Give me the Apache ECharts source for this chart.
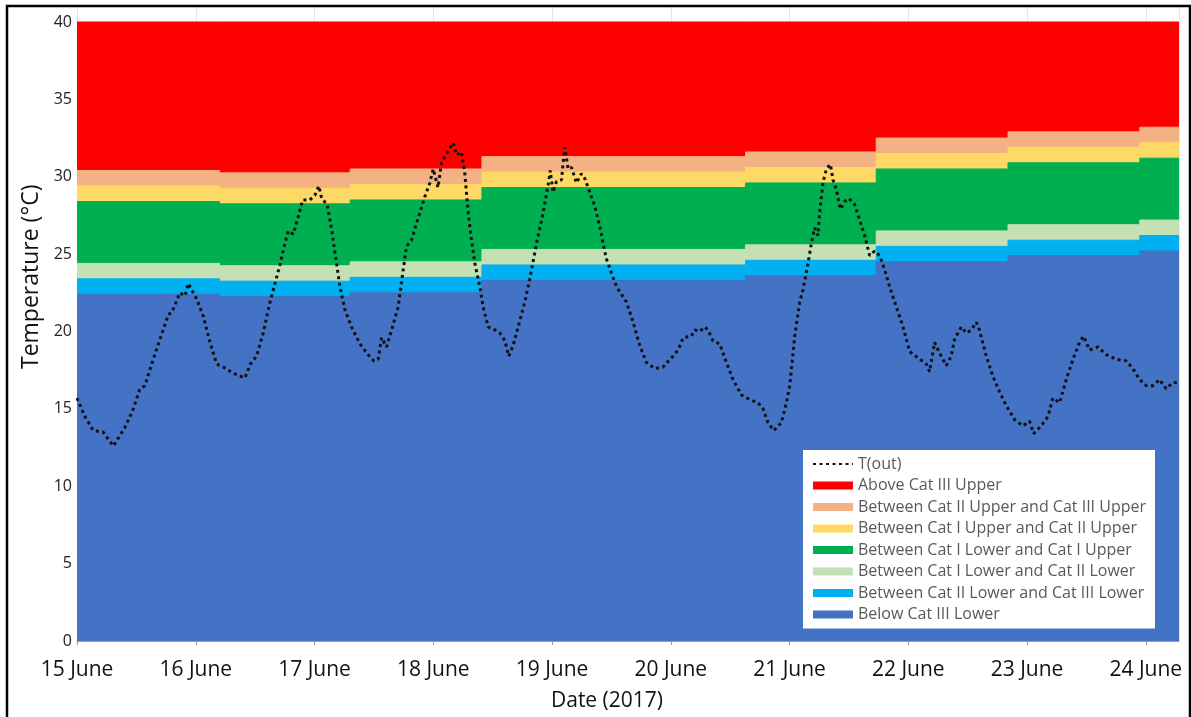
<!DOCTYPE html>
<html>
<head>
<meta charset="utf-8">
<script src="https://cdn.jsdelivr.net/npm/echarts@6/dist/echarts.min.js"></script>
<style>
  html, body { margin: 0; padding: 0; background: #fff; }
  #chart { width: 1191px; height: 717px; }
</style>
</head>
<body>
<div id="chart"></div>
<script>
// x axis is days since 15 June 2017 00:00
const dayTicks = ['15 June', '16 June', '17 June', '18 June', '19 June',
  '20 June', '21 June', '22 June', '23 June', '24 June'];
const endDay = 9.28;

// comfort band limits, one value per step segment
const stepStart   = [0, 1.2, 2.3, 3.41, 5.63, 6.73, 7.84, 8.95];
const catIIIUpper = [30.4, 30.25, 30.5, 31.3, 31.6, 32.5, 32.9, 33.2];
const catIIUpper  = [29.4, 29.25, 29.5, 30.3, 30.6, 31.5, 31.9, 32.2];
const catIUpper   = [28.4, 28.25, 28.5, 29.3, 29.6, 30.5, 30.9, 31.2];
const catILower   = [24.4, 24.25, 24.5, 25.3, 25.6, 26.5, 26.9, 27.2];
const catIILower  = [23.4, 23.25, 23.5, 24.3, 24.6, 25.5, 25.9, 26.2];
const catIIILower = [22.4, 22.25, 22.5, 23.3, 23.6, 24.5, 24.9, 25.2];
const topLimit = [40, 40, 40, 40, 40, 40, 40, 40];

// outdoor temperature
const tDay = [0, 0.067, 0.137, 0.22, 0.306, 0.404, 0.474, 0.53, 0.572, 0.642, 0.699, 0.769, 0.797, 0.867, 0.909, 0.937, 0.965,
  1.008, 1.063, 1.12, 1.176, 1.232, 1.316, 1.414, 1.46, 1.512, 1.568, 1.625, 1.667, 1.709, 1.751, 1.779, 1.821, 1.863, 1.9, 1.961,
  2.003, 2.037, 2.06, 2.107, 2.144, 2.18, 2.214, 2.256, 2.312, 2.382, 2.452, 2.5, 2.536, 2.565, 2.607, 2.649, 2.705, 2.747, 2.775,
  2.817, 2.859, 2.901, 2.929, 2.971, 3.0, 3.04, 3.07, 3.112, 3.168, 3.196, 3.238, 3.266, 3.294, 3.322, 3.35, 3.392, 3.42, 3.462,
  3.519, 3.561, 3.603, 3.636, 3.673, 3.715, 3.771, 3.813, 3.87, 3.926, 3.97, 3.985, 4.009, 4.038, 4.08, 4.094, 4.108, 4.136, 4.164,
  4.206, 4.248, 4.276, 4.318, 4.36, 4.402, 4.43, 4.458, 4.5, 4.543, 4.627, 4.683, 4.739, 4.795, 4.865, 4.935, 5.006, 5.062, 5.104,
  5.174, 5.202, 5.244, 5.286, 5.314, 5.356, 5.412, 5.469, 5.524, 5.595, 5.665, 5.735, 5.777, 5.819, 5.867, 5.932, 5.974, 6.002,
  6.044, 6.086, 6.114, 6.156, 6.184, 6.212, 6.24, 6.254, 6.282, 6.31, 6.344, 6.366, 6.394, 6.428, 6.465, 6.5, 6.549, 6.591, 6.633,
  6.675, 6.717, 6.759, 6.801, 6.843, 6.899, 6.956, 7.012, 7.082, 7.152, 7.18, 7.222, 7.264, 7.32, 7.362, 7.39, 7.447, 7.489, 7.531,
  7.573, 7.6, 7.657, 7.713, 7.769, 7.826, 7.896, 7.966, 8.022, 8.056, 8.12, 8.176, 8.218, 8.274, 8.331, 8.387, 8.443, 8.476, 8.527,
  8.597, 8.667, 8.752, 8.836, 8.892, 8.948, 9.004, 9.06, 9.116, 9.172, 9.228, 9.28];
const tOut = [15.7, 14.5, 13.6, 13.5, 12.6, 13.8, 15.0, 16.3, 16.5, 18.2, 19.5, 21.1, 21.2, 22.5, 22.3, 23.1, 22.7,
  22.1, 21.0, 19.3, 17.9, 17.7, 17.3, 17.0, 17.9, 18.4, 19.9, 21.9, 23.1, 24.3, 25.7, 26.5, 26.3, 27.4, 28.5, 28.5,
  28.8, 29.4, 28.6, 28.2, 26.6, 24.7, 22.9, 21.4, 20.3, 19.2, 18.5, 18.1, 18.2, 19.6, 19.0, 20.1, 21.6, 24.0, 25.5,
  25.9, 27.0, 28.0, 28.7, 29.6, 30.5, 29.3, 30.9, 31.5, 32.2, 31.4, 31.6, 30.2, 27.7, 25.9, 24.4, 22.9, 21.6, 20.3,
  20.1, 19.9, 19.4, 18.4, 19.1, 20.3, 21.9, 23.4, 25.7, 27.7, 29.6, 30.4, 29.0, 29.7, 29.8, 30.9, 31.9, 30.5, 30.6,
  29.6, 30.2, 29.9, 29.0, 28.1, 26.8, 25.7, 24.7, 23.8, 22.9, 21.9, 20.6, 19.1, 18.0, 17.6, 17.7, 18.3, 18.8, 19.6,
  19.7, 20.1, 20.0, 20.3, 20.1, 19.4, 19.2, 18.0, 16.9, 15.9, 15.6, 15.4, 15.0, 14.1, 13.6, 14.1, 15.4, 16.5,
  19.7, 21.9, 22.7, 24.4, 25.7, 26.7, 26.2, 27.7, 29.6, 30.5, 30.8, 29.8, 29.2, 27.9, 28.4, 28.6, 28.2, 27.2, 26.2,
  24.9, 25.2, 24.9, 24.0, 22.9, 21.6, 20.3, 18.7, 18.3, 17.9, 17.4, 19.3, 18.6, 17.8, 18.4, 19.5, 20.3, 19.9, 20.1,
  20.6, 20.1, 18.4, 17.1, 16.1, 15.2, 14.3, 13.9, 14.2, 13.4, 13.9, 14.5, 15.7, 15.4, 16.9, 18.2, 19.3, 19.7, 18.8,
  19.0, 18.5, 18.2, 18.1, 17.6, 16.9, 16.5, 16.5, 16.9, 16.3, 16.7, 16.7];

const bandNames = [
  'Above Cat III Upper',
  'Between Cat II Upper and Cat III Upper',
  'Between Cat I Upper and Cat II Upper',
  'Between Cat I Lower and Cat I Upper',
  'Between Cat I Lower and Cat II Lower',
  'Between Cat II Lower and Cat III Lower',
  'Below Cat III Lower'
];
const bandColors = ['#ff0000', '#f4b183', '#ffd966', '#00b050', '#c5e0b4', '#00b0f0', '#4472c4'];
// top edge of each band, painted top band first so lower ones cover it
const bandTops = [topLimit, catIIIUpper, catIIUpper, catIUpper, catILower, catIILower, catIIILower];

const stepPairs = function(vals) {
  const pts = stepStart.map((d, i) => [d, vals[i]]);
  pts.push([endDay, vals[vals.length - 1]]);
  return pts;
};

const font = "'Open Sans', 'DejaVu Sans', sans-serif";

const series = bandNames.map((name, i) => ({
  name: name,
  type: 'line',
  step: 'end',
  data: stepPairs(bandTops[i]),
  symbol: 'none',
  color: bandColors[i],
  lineStyle: { color: bandColors[i], width: 1 },
  areaStyle: { color: bandColors[i], opacity: 1 }
}));

series.push({
  name: 'T(out)',
  type: 'line',
  data: tDay.map((d, i) => [d, tOut[i]]),
  symbol: 'none',
  color: '#111',
  lineStyle: { color: '#111', width: 3, type: [3, 3.5] }
});

const chart = echarts.init(document.getElementById('chart'));
chart.setOption({
  animation: false,
  backgroundColor: '#fff',
  grid: { left: 77, right: 12, top: 6.5, bottom: 75 },
  legend: {
    orient: 'vertical',
    left: 803,
    top: 450,
    z: 50,
    backgroundColor: '#fff',
    padding: [6, 9, 6, 9],
    itemWidth: 40,
    itemHeight: 8,
    itemGap: 5.5,
    textStyle: { fontFamily: font, fontSize: 16, color: '#595959', lineHeight: 16 },
    data: [{ name: 'T(out)', itemStyle: { opacity: 0 } }]
      .concat(bandNames.map(n => ({ name: n, icon: 'rect' })))
  },
  xAxis: {
    type: 'value',
    min: 0,
    max: endDay,
    interval: 1,
    name: 'Date (2017)',
    nameLocation: 'middle',
    nameGap: 50,
    nameTextStyle: { fontFamily: font, fontSize: 21, color: '#111', padding: [0, 42, 0, 0] },
    axisLine: { lineStyle: { color: '#9a9a9a', width: 1 } },
    axisTick: { show: true, length: 4, lineStyle: { color: '#9a9a9a' } },
    axisLabel: {
      fontFamily: font, fontSize: 21, color: '#111', margin: 19,
      showMaxLabel: false,
      formatter: v => dayTicks[Math.round(v)] || ''
    },
    splitLine: { show: true, lineStyle: { color: '#e6e6e6', width: 1 } }
  },
  yAxis: {
    type: 'value',
    min: 0,
    max: 41,
    interval: 5,
    name: 'Temperature (°C)',
    nameLocation: 'middle',
    nameGap: 33,
    nameTextStyle: { fontFamily: font, fontSize: 23, color: '#111', padding: [0, 0, 0, 94] },
    axisLine: { show: false },
    axisTick: { show: false },
    axisLabel: { fontFamily: font, fontSize: 16, color: '#222', margin: 5, showMaxLabel: false },
    splitLine: { show: false }
  },
  graphic: [{
    type: 'rect',
    shape: { x: 7, y: 6, width: 1183, height: 730 },
    style: { fill: null, stroke: '#000', lineWidth: 2.5 },
    z: 100,
    silent: true
  }],
  series: series
});
</script>
</body>
</html>
